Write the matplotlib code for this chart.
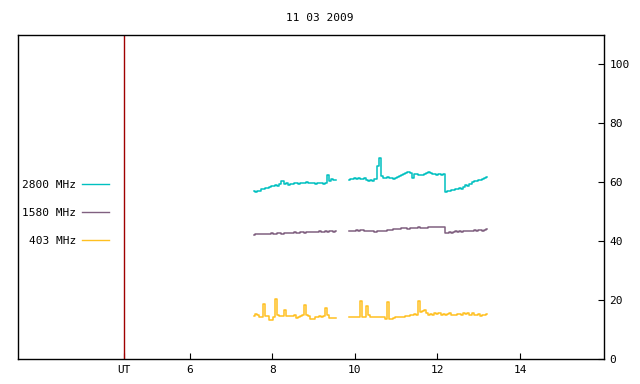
import matplotlib as mpl
mpl.use('Agg')
import matplotlib.pyplot as plt

plt.rcParams['font.family'] = 'DejaVu Sans Mono'
plt.rcParams['font.size'] = 8

title = "11 03 2009"
labels = ["2800 MHz", "1580 MHz", "403 MHz"]
colors = ["#00c0c0", "#806080", "#ffc020"]
ut_time = 4.42
xticks = [ut_time, 6, 8, 10, 12, 14]
xticklabels = ["UT", "6", "8", "10", "12", "14"]
yticks = [0, 20, 40, 60, 80, 100]

# time (hours UT), two observing blocks
t1 = [7.55, 7.60, 7.65, 7.70, 7.75, 7.80, 7.85, 7.90, 7.95, 8.00,
      8.05, 8.10, 8.15, 8.20, 8.25, 8.30, 8.35, 8.40, 8.45, 8.50,
      8.55, 8.60, 8.65, 8.70, 8.75, 8.80, 8.85, 8.90, 8.95, 9.00,
      9.05, 9.10, 9.15, 9.20, 9.25, 9.30, 9.35, 9.40, 9.45, 9.50,
      9.55]
t2 = [9.85, 9.90, 9.95, 10.00, 10.05, 10.10, 10.15, 10.20, 10.25, 10.30,
      10.35, 10.40, 10.45, 10.50, 10.55, 10.60, 10.65, 10.70, 10.75, 10.80,
      10.85, 10.90, 10.95, 11.00, 11.05, 11.10, 11.15, 11.20, 11.25, 11.30,
      11.35, 11.40, 11.45, 11.50, 11.55, 11.60, 11.65, 11.70, 11.75, 11.80,
      11.85, 11.90, 11.95, 12.00, 12.05, 12.10, 12.15, 12.20, 12.25, 12.30,
      12.35, 12.40, 12.45, 12.50, 12.55, 12.60, 12.65, 12.70, 12.75, 12.80,
      12.85, 12.90, 12.95, 13.00, 13.05, 13.10, 13.15, 13.20]

f2800_a = [56.9, 56.8, 57.0, 56.9, 57.6, 57.8, 58.0, 58.2, 58.5, 58.7,
           58.8, 59.1, 58.9, 59.3, 60.3, 59.4, 59.6, 59.2, 59.5, 59.4,
           59.7, 59.6, 59.5, 59.8, 59.6, 59.7, 60.0, 59.8, 59.6, 59.9,
           59.5, 59.8, 59.6, 59.7, 59.5, 59.9, 62.3, 60.6, 61.0, 60.8,
           60.9]
f2800_b = [60.9, 61.2, 61.0, 61.3, 61.1, 61.4, 61.2, 61.0, 61.3, 60.8,
           60.5, 60.9, 60.3, 61.0, 65.5, 68.3, 62.0, 61.6, 61.4, 61.7,
           61.3, 61.5, 61.2, 61.6, 61.8, 62.2, 62.6, 62.8, 63.2, 63.4,
           63.0, 61.4, 62.7, 62.9, 62.5, 62.6, 62.4, 62.7, 63.0, 63.4,
           63.1, 62.7, 62.9, 62.6, 62.8, 62.5, 62.7, 56.6, 57.2, 57.0,
           57.5, 57.3, 57.8, 57.6, 58.1, 57.8, 58.3, 59.2, 58.6, 59.3,
           60.2, 60.6, 60.4, 60.9, 60.7, 61.0, 61.3, 61.8]

f1580_a = [42.2, 42.4, 42.3, 42.5, 42.4, 42.6, 42.5, 42.6, 42.4, 42.7,
           42.6, 42.5, 42.7, 42.8, 42.6, 42.9, 42.7, 42.8, 42.9, 42.8,
           43.0, 42.9, 42.8, 43.0, 43.1, 42.9, 43.0, 43.2, 43.0, 43.1,
           43.2, 43.0, 43.3, 43.2, 43.1, 43.3, 43.2, 43.4, 43.3, 43.2,
           43.3]
f1580_b = [43.4, 43.6, 43.5, 43.6, 43.7, 43.6, 43.8, 43.7, 43.5, 43.6,
           43.4, 43.3, 43.5, 43.2, 43.4, 43.3, 43.5, 43.6, 43.5, 43.7,
           43.8, 43.9, 44.1, 44.0, 44.2, 44.3, 44.5, 44.4, 44.5, 44.3,
           44.6, 44.5, 44.4, 44.6, 44.7, 44.5, 44.4, 44.6, 44.5, 44.7,
           44.9, 44.8, 44.9, 44.7, 44.8, 44.9, 44.8, 42.9, 42.8, 43.0,
           42.9, 43.2, 43.4, 43.1, 43.3, 43.2, 43.5, 43.4, 43.3, 43.6,
           43.5, 43.7, 43.5, 43.8, 43.7, 43.6, 43.9, 44.2]

f403_a = [14.7, 15.3, 14.9, 14.1, 14.4, 18.8, 14.5, 14.6, 13.4, 13.3,
          14.2, 20.4, 14.8, 14.5, 14.6, 16.7, 14.5, 14.6, 14.7, 14.6,
          14.8, 13.8, 14.1, 14.6, 15.1, 18.4, 14.8, 14.5, 13.6, 13.7,
          14.3, 14.4, 14.5, 14.4, 14.6, 17.3, 15.0, 14.0, 14.0, 14.0,
          14.0]
f403_b = [14.2, 14.3, 14.1, 14.3, 14.2, 14.3, 19.7, 14.3, 14.1, 18.0,
          14.8, 14.1, 14.1, 14.1, 14.1, 14.1, 14.2, 14.1, 13.6, 19.4,
          13.5, 13.6, 13.8, 14.1, 14.1, 14.1, 14.2, 14.4, 14.7, 14.6,
          15.0, 14.8, 15.3, 15.0, 19.7, 15.8, 16.3, 16.6, 15.7, 15.1,
          15.4, 14.9, 15.6, 15.2, 15.5, 15.0, 15.4, 14.9, 15.2, 15.5,
          14.9, 15.1, 14.8, 15.2, 15.4, 15.0, 15.6, 15.2, 15.5, 15.1,
          15.6, 15.0, 14.8, 15.2, 14.7, 14.9, 15.1, 15.4]

series = [(f2800_a, f2800_b), (f1580_a, f1580_b), (f403_a, f403_b)]

fig = plt.figure(figsize=(6.4, 3.84), dpi=100)
ax = fig.add_axes([18/640, 1-359/384, (604-18)/640, (359-35)/384])

for (ya, yb), lab, col in zip(series, labels, colors):
    ax.plot(t1, ya, color=col, lw=1.1, drawstyle='steps-mid', label=lab)
    ax.plot(t2, yb, color=col, lw=1.1, drawstyle='steps-mid')

ax.axvline(ut_time, color='#a00000', lw=1.0)

ax.set_xlim(1.85, 16.03)
ax.set_ylim(0, 110)
ax.set_xticks(xticks)
ax.set_xticklabels(xticklabels)
ax.set_yticks(yticks)
ax.yaxis.tick_right()
ax.tick_params(axis='both', direction='in', length=4, width=0.8, pad=4)
ax.tick_params(axis='x', bottom=True, top=False)
for s in ax.spines.values():
    s.set_linewidth(1.0)

leg = ax.legend(loc='center left', bbox_to_anchor=(22/640, 1-213/384),
                bbox_transform=fig.transFigure, frameon=False,
                markerfirst=False, handlelength=2.5, handletextpad=0.5,
                labelspacing=1.6, borderpad=0, borderaxespad=0)
for t in leg.get_texts():
    t.set_ha('right')
for h in leg.get_lines():
    h.set_linewidth(1.0)

fig.text(0.5, 1-18/384, title, ha='center', va='center')

fig.savefig('out.png', dpi=100)
